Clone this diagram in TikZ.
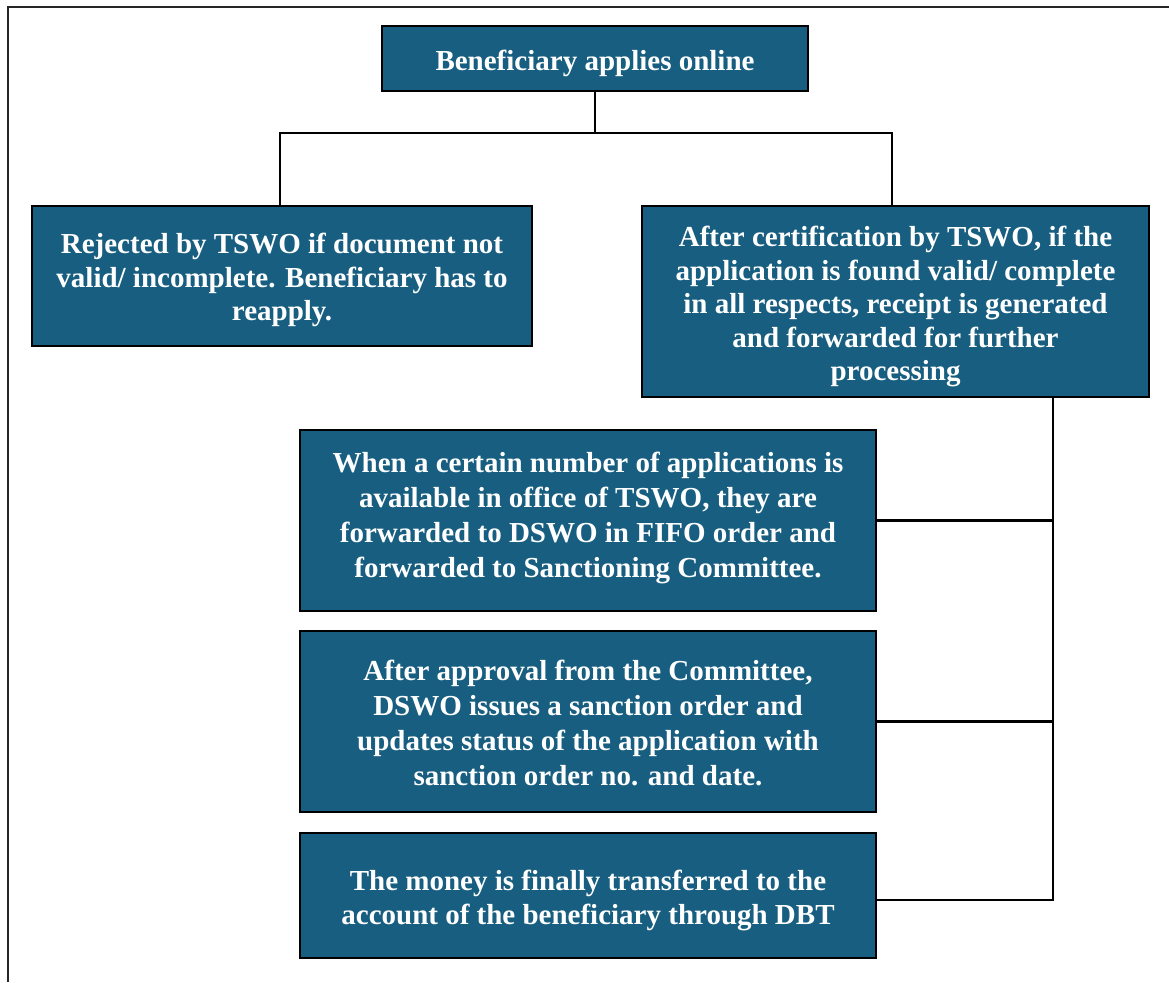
\documentclass[tikz,border=0pt]{standalone}
\usepackage{fontspec}
\setmainfont{Liberation Serif}
\definecolor{boxblue}{HTML}{175E80}
\begin{document}
\begin{tikzpicture}[x=1pt,y=-1pt,
  flowbox/.style={draw=black,line width=2.6pt,fill=boxblue,inner sep=0pt},
  boxtext/.style={text=white,font=\fontsize{29}{33.5}\selectfont\bfseries,align=center,inner sep=0pt},
  widetext/.style={boxtext,font=\fontsize{29}{35}\selectfont\bfseries},
  conn/.style={draw=black,line width=2.2pt}]
\useasboundingbox (0,0) rectangle (1169,982);
\draw[line width=1.8pt,black!85] (8,982) -- (8,7) -- (1169,7);
\node[flowbox,minimum width=426pt,minimum height=65pt] (top) at (595,58.5) {};
\node[boxtext] (toptext) at ([yshift=-5pt]top.center) {Beneficiary applies online};
\node[flowbox,minimum width=500pt,minimum height=140pt] (left) at (282,276) {};
\node[boxtext] (lefttext) at ([yshift=-4pt]left.center) {Rejected by TSWO if document not\\valid/ incomplete. Beneficiary has to\\reapply.};
\node[flowbox,minimum width=507pt,minimum height=191pt] (right) at (895.5,301.5) {};
\node[boxtext] (righttext) at ([yshift=-5pt]right.center) {After certification by TSWO, if the\\application is found valid/ complete\\in all respects, receipt is generated\\and forwarded for further\\processing};
\node[flowbox,minimum width=576pt,minimum height=181pt] (b4) at (588,520.5) {};
\node[widetext] (b4text) at ([yshift=3pt]b4.center) {When a certain number of applications is\\available in office of TSWO, they are\\forwarded to DSWO in FIFO order and\\forwarded to Sanctioning Committee.};
\node[flowbox,minimum width=576pt,minimum height=181pt] (b5) at (588,721.5) {};
\node[widetext] (b5text) at ([yshift=-1pt]b5.center) {After approval from the Committee,\\DSWO issues a sanction order and\\updates status of the application with\\sanction order no. and date.};
\node[flowbox,minimum width=576pt,minimum height=125pt] (b6) at (588,895.5) {};
\node[boxtext] (b6text) at ([yshift=-5pt]b6.center) {The money is finally transferred to the\\account of the beneficiary through DBT};
\coordinate (j) at (595,133);
\coordinate (lj) at (280,133);
\coordinate (rj) at (892,133);
\coordinate (rb) at (1053,397);
\coordinate (re) at (1053,900);
\draw[conn] (top.south) -- (j);
\draw[conn] (lj |- left.north) -- (lj) -- (rj) -- (rj |- right.north);
\draw[conn] (rb) -- (re) -- (b6.east |- re);
\draw[conn] (b4.east) -- (b4.east -| rb);
\draw[conn] (b5.east) -- (b5.east -| rb);
\end{tikzpicture}
\end{document}
